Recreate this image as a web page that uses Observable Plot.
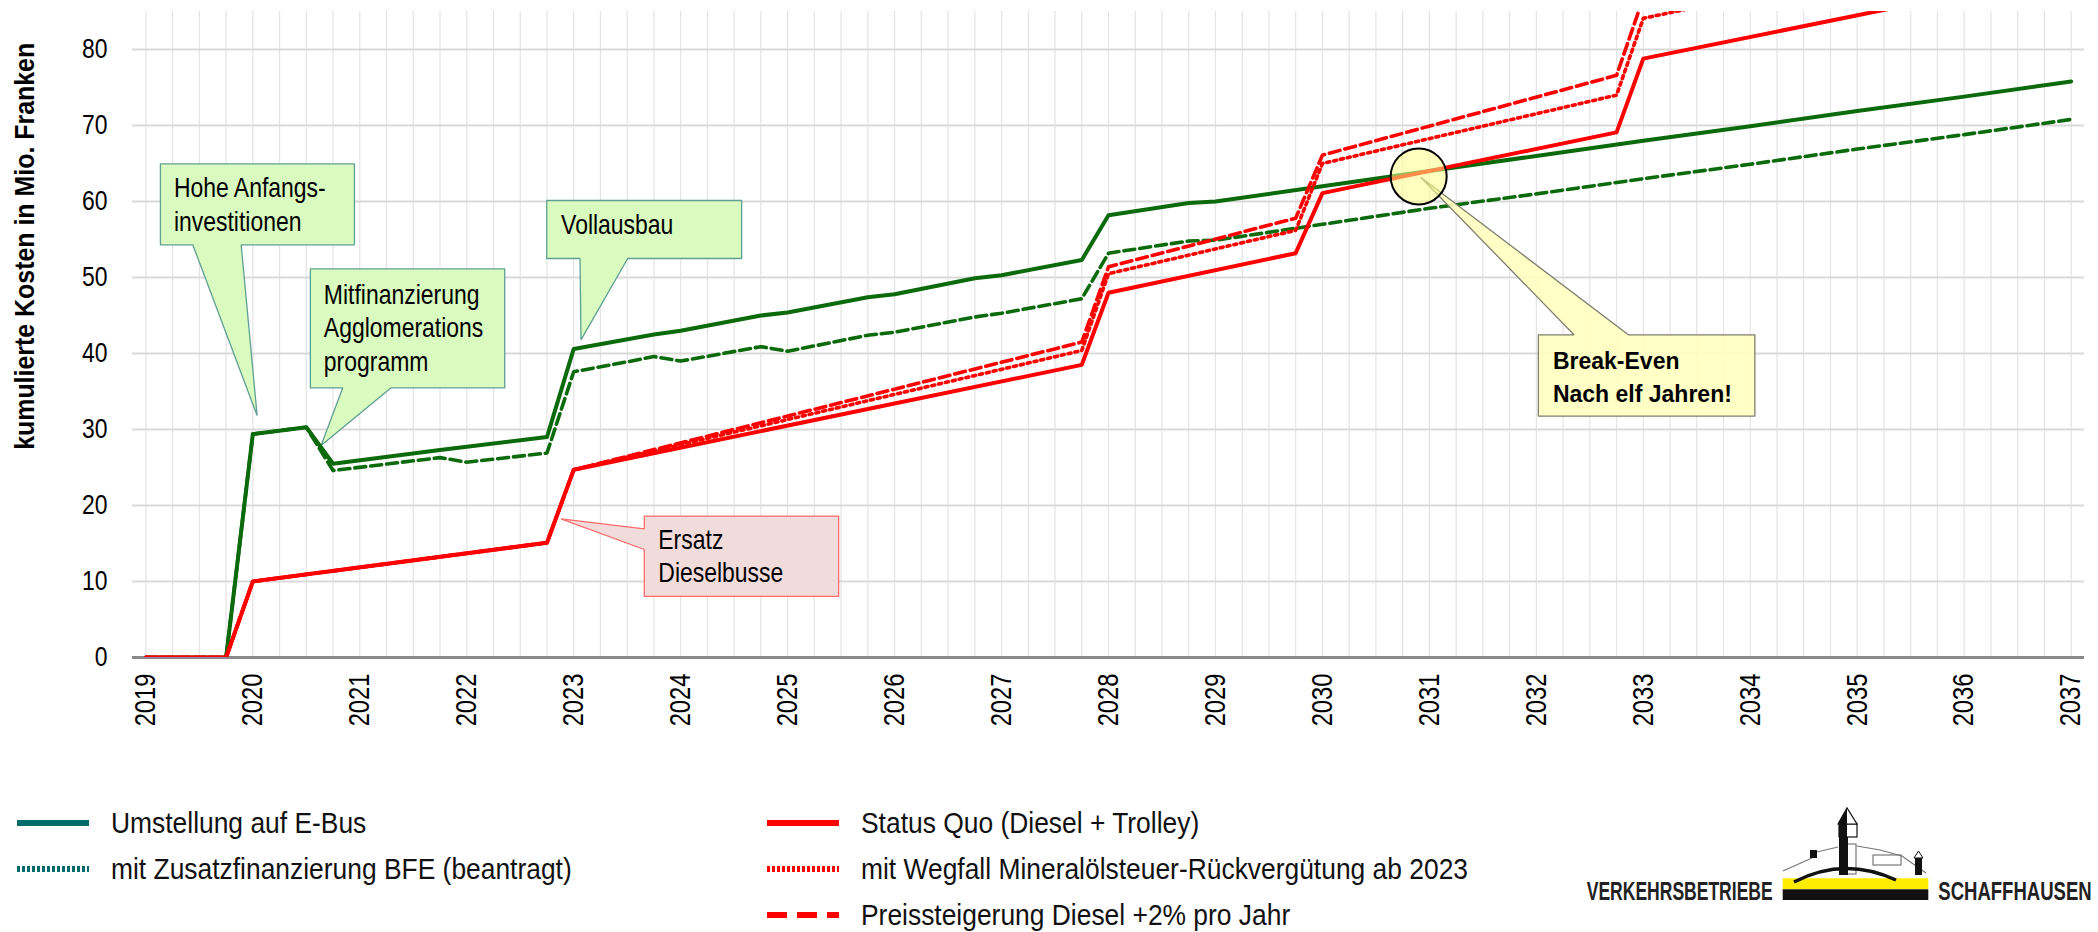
<!DOCTYPE html>
<html><head><meta charset="utf-8">
<script src="https://cdn.jsdelivr.net/npm/d3@7"></script>
<script src="https://cdn.jsdelivr.net/npm/@observablehq/plot@0.6"></script>
<style>
body{margin:0;background:#fff;}
#wrap{position:relative;width:2098px;height:932px;overflow:hidden;background:#fff;}
#chart{position:absolute;left:0;top:0;}
.leg{position:absolute;display:flex;align-items:center;height:40px;font-family:'Liberation Sans',Arial,sans-serif;font-size:30px;color:#111;white-space:nowrap;}
.leg svg{margin-right:22px;flex:none;}
.leg span{display:inline-block;transform:scaleX(0.88);transform-origin:left center;}
#logo{position:absolute;left:1580px;top:800px;}
</style></head>
<body>
<div id="wrap">
<div id="chart"></div>
<div id="legend"></div>
<svg id="logo" width="518" height="132" viewBox="0 0 518 132">
  <g fill="none" stroke="#777" stroke-width="1.2">
    <path d="M203,71 L232,58"/>
    <path d="M237,52 L258,47"/>
    <path d="M277,46 L300,50 L322,56 L346,73"/>
    <rect x="293" y="55" width="28" height="10"/>
    <rect x="262" y="44" width="14" height="30"/>
  </g>
  <rect x="230" y="50" width="7" height="8" fill="#111"/>
  <rect x="335" y="57" width="7" height="18" fill="#111"/>
  <path d="M334,58 L338.5,51 L343,58 Z" fill="#fff" stroke="#111" stroke-width="1"/>
  <rect x="259" y="36" width="9" height="39" fill="#111"/>
  <rect x="259" y="24" width="18" height="13" fill="#fff" stroke="#111" stroke-width="1.2"/>
  <rect x="259" y="24" width="8" height="13" fill="#111"/>
  <path d="M258,24 L267,8 L277,24 Z" fill="#fff" stroke="#111" stroke-width="1.2"/>
  <path d="M258,24 L267,8 L267,24 Z" fill="#111"/>
  <rect x="202.7" y="78.3" width="145.6" height="11" fill="#ffec00"/>
  <rect x="202.7" y="89.3" width="145.6" height="10.7" fill="#111"/>
  <path d="M214,82 Q264,56 316,80" fill="none" stroke="#111" stroke-width="3.5"/>
  <text x="6.7" y="100" textLength="186" lengthAdjust="spacingAndGlyphs" font-family="'Liberation Sans',Arial,sans-serif" font-weight="bold" font-size="25" fill="#222">VERKEHRSBETRIEBE</text>
  <text x="358.3" y="100" textLength="153.4" lengthAdjust="spacingAndGlyphs" font-family="'Liberation Sans',Arial,sans-serif" font-weight="bold" font-size="25" fill="#222">SCHAFFHAUSEN</text>
</svg>
</div>
<script>
// ---------- data ----------
const xTicks = [2019,2020,2021,2022,2023,2024,2025,2026,2027,2028,2029,2030,2031,2032,2033,2034,2035,2036,2037];
const yTicks = [0,10,20,30,40,50,60,70,80];

// Umstellung auf E-Bus  [Jahr, Mio. Fr.]
const eBus = [
 [2019.0,0],[2019.75,0],[2020.0,29.4],[2020.5,30.3],[2020.75,25.5],[2021.75,27.3],[2022.75,29.0],
 [2023.0,40.6],[2023.75,42.5],[2024.0,43.0],[2024.75,45.0],[2025.0,45.4],[2025.75,47.4],[2026.0,47.8],
 [2026.75,49.9],[2027.0,50.3],[2027.75,52.3],[2028.0,58.2],[2028.75,59.8],[2029.0,60.0],[2030.0,62.0],
 [2031.0,64.0],[2032.0,66.0],[2033.0,68.0],[2034.0,69.9],[2035.0,71.9],[2036.0,73.8],[2037.0,75.8]
];
// mit Zusatzfinanzierung BFE (beantragt)
const eBusBFE = [
 [2019.0,0],[2019.75,0],[2020.0,29.4],[2020.5,30.3],[2020.75,24.6],[2021.75,26.3],[2022.0,25.7],[2022.75,26.9],
 [2023.0,37.6],[2023.5,38.9],[2023.75,39.6],[2024.0,39.0],[2024.75,40.9],[2025.0,40.3],[2025.75,42.4],[2026.0,42.8],
 [2026.75,44.8],[2027.0,45.3],[2027.75,47.2],[2028.0,53.2],[2028.75,54.8],[2029.0,54.9],[2030.0,57.0],
 [2031.0,59.1],[2032.0,61.0],[2033.0,63.0],[2034.0,64.9],[2035.0,66.9],[2036.0,68.8],[2037.0,70.8]
];
// Status Quo (Diesel + Trolley)
const statusQuo = [
 [2019.0,0],[2019.75,0],[2020.0,10.0],[2022.75,15.1],[2023.0,24.7],[2027.75,38.5],[2028.0,48.0],
 [2029.75,53.2],[2030.0,61.1],[2032.75,69.1],[2033.0,78.8],[2037.0,90.2]
];
// mit Wegfall Mineralölsteuer-Rückvergütung ab 2023
const mineraloel = [
 [2019.0,0],[2019.75,0],[2020.0,10.0],[2022.75,15.1],[2023.0,24.7],[2027.75,40.4],[2028.0,50.5],
 [2029.75,56.2],[2030.0,65.0],[2032.75,74.0],[2033.0,84.1],[2037.0,96.0]
];
// Preissteigerung Diesel +2% pro Jahr
const preis = [
 [2019.0,0],[2019.75,0],[2020.0,10.0],[2022.75,15.1],[2023.0,24.7],[2027.75,41.5],[2028.0,51.4],
 [2029.75,57.8],[2030.0,66.1],[2032.75,76.6],[2033.0,86.8],[2037.0,100.0]
];
const breakEven = [2030.9, 63.3];

const legendLabels = [
  "Umstellung auf E-Bus",
  "mit Zusatzfinanzierung BFE (beantragt)",
  "Status Quo (Diesel + Trolley)",
  "mit Wegfall Mineralölsteuer-Rückvergütung ab 2023",
  "Preissteigerung Diesel +2% pro Jahr"
];
const yTitle = "kumulierte Kosten in Mio. Franken";

// ---------- annotation geometry (data units) ----------
const cHohe  = {x0:2019.136, x1:2020.950, top:64.96, bottom:54.30, a:2019.439, b:2019.891, tip:[2020.040,31.84]};
const cAgglo = {x0:2020.538, x1:2022.355, top:51.14, bottom:35.49, a:2020.841, b:2021.293, tip:[2020.638,27.89]};
const cVoll  = {x0:2022.748, x1:2024.570, top:60.13, bottom:52.50, a:2023.059, b:2023.505, tip:[2023.068,41.80]};
const cErs   = {x0:2023.660, x1:2025.477, top:18.59, bottom:8.03, hi:16.93, lo:14.21, tip:[2022.881,18.25]};
const cBE    = {x0:2032.019, x1:2034.043, top:42.46, bottom:31.75, a:2032.352, b:2032.860, tip:[2030.919,63.20]};

const notes = [
  {x:2019.262, y:63.71, t:"Hohe Anfangs-\ninvestitionen"},
  {x:2020.664, y:49.68, t:"Mitfinanzierung\nAgglomerations\nprogramm"},
  {x:2022.882, y:58.89, t:"Vollausbau"},
  {x:2023.791, y:17.44, t:"Ersatz\nDieselbusse"}
];
const beNote = [{x:2032.155, y:41.10, t:"Break-Even\nNach elf Jahren!"}];
const titlePos = [{x:2018.875, y:54.1, t:yTitle}];

const bottomTail = c => [[c.x0,c.top],[c.x1,c.top],[c.x1,c.bottom],[c.b,c.bottom],c.tip,[c.a,c.bottom],[c.x0,c.bottom],[c.x0,c.top]];
const leftTail = c => [[c.x0,c.top],[c.x1,c.top],[c.x1,c.bottom],[c.x0,c.bottom],[c.x0,c.lo],c.tip,[c.x0,c.hi],[c.x0,c.top]];
const topTail = c => [[c.x0,c.top],[c.a,c.top],c.tip,[c.b,c.top],[c.x1,c.top],[c.x1,c.bottom],[c.x0,c.bottom],[c.x0,c.top]];

// condensed look: regular face, horizontally squeezed after rendering
const COND = "'Liberation Sans', Arial, xcond, sans-serif";
const TITLEF = "'Liberation Sans', Arial, xtitle, sans-serif";
const GREEN = "#0b6a0b", RED = "#ff0000", TEAL = "#006b6b";
const quarterGrid = d3.range(2019, 2037.001, 0.25);

const greenBox = {fill:"#d9fbbf", stroke:"#5f9f93", strokeWidth:1.3, strokeLinejoin:"miter"};

const chart = Plot.plot({
  width: 2098, height: 745,
  marginLeft: 132, marginRight: 14, marginTop: 11, marginBottom: 88,
  x: {domain: [2018.875, 2037.125]},
  y: {domain: [0, 85]},
  style: {fontFamily: "'Liberation Sans', Arial, sans-serif", background: "#fff", color: "#000", overflow: "visible"},
  marks: [
    Plot.ruleX(quarterGrid, {stroke: "#e4e4e4", strokeWidth: 1.2}),
    Plot.ruleY(yTicks.filter(d => d > 0), {stroke: "#d9d9d9", strokeWidth: 2}),
    Plot.ruleY([0], {stroke: "#8a8a8a", strokeWidth: 3}),
    Plot.axisX({ticks: xTicks, tickFormat: "d", tickRotate: -90, tickSize: 0, tickPadding: 16, fontSize: 29, fontFamily: COND, label: null, fill: "#000"}),
    Plot.axisY({ticks: yTicks, tickSize: 0, tickPadding: 25, fontSize: 28, fontFamily: COND, label: null, fill: "#000"}),
    Plot.text(titlePos, {x: "x", y: "y", text: "t", dx: -107, rotate: -90, textAnchor: "middle", lineAnchor: "middle", fontSize: 28, fontWeight: "bold", fontFamily: TITLEF, fill: "#000"}),
    // callouts behind the lines
    Plot.line(bottomTail(cHohe), greenBox),
    Plot.line(bottomTail(cAgglo), greenBox),
    Plot.line(bottomTail(cVoll), greenBox),
    Plot.line(leftTail(cErs), {fill:"#f2dcdb", stroke:"#ff6a6a", strokeWidth:1.3, strokeLinejoin:"miter"}),
    Plot.text(notes, {x:"x", y:"y", text:"t", textAnchor:"start", lineAnchor:"top", lineHeight:1.2, fontSize:28, fontFamily:COND, fill:"#000"}),
    // series
    Plot.line(eBusBFE, {stroke: GREEN, strokeWidth: 3.6, strokeDasharray: "11,5", clip: true}),
    Plot.line(eBus, {stroke: GREEN, strokeWidth: 4, clip: true}),
    Plot.line(mineraloel, {stroke: RED, strokeWidth: 3.6, strokeDasharray: "3,4", clip: true}),
    Plot.line(preis, {stroke: RED, strokeWidth: 3.6, strokeDasharray: "11,5", clip: true}),
    Plot.line(statusQuo, {stroke: RED, strokeWidth: 4, clip: true}),
    // break-even callout
    Plot.line(topTail(cBE), {fill:"#ffffc0", fillOpacity:0.9, stroke:"#7f7f70", strokeWidth:1.3, strokeLinejoin:"miter"}),
    Plot.dot([breakEven], {r: 28, fill: "#ffff88", fillOpacity: 0.55, stroke: "#000", strokeWidth: 2}),
    Plot.text(beNote, {x:"x", y:"y", text:"t", textAnchor:"start", lineAnchor:"top", lineHeight:1.45, fontSize:23, fontWeight:"bold", fill:"#000"})
  ]
});
chart.querySelectorAll('g[font-family*="xcond"] text').forEach(t => {
  t.setAttribute("transform", (t.getAttribute("transform") || "") + " scale(0.82,1)");
});
chart.querySelectorAll('g[font-family*="xtitle"] text').forEach(t => {
  t.setAttribute("transform", (t.getAttribute("transform") || "") + " scale(0.89,1)");
});
document.getElementById("chart").appendChild(chart);

// ---------- legend ----------
const legendStyles = [
  {color: TEAL, dash: null},
  {color: TEAL, dash: "3,2"},
  {color: RED, dash: null},
  {color: RED, dash: "3,2"},
  {color: RED, dash: "20,10"}
];
const legendPos = [[17,803],[17,849],[767,803],[767,849],[767,895]];
const legend = document.getElementById("legend");
legendLabels.forEach((lab, i) => {
  const d = document.createElement("div");
  d.className = "leg";
  d.style.left = legendPos[i][0] + "px";
  d.style.top = legendPos[i][1] + "px";
  const st = legendStyles[i];
  d.innerHTML = `<svg width="72" height="10"><line x1="0" x2="72" y1="5" y2="5" stroke="${st.color}" stroke-width="6" ${st.dash ? `stroke-dasharray="${st.dash}"` : ""}/></svg><span>${lab}</span>`;
  legend.appendChild(d);
});
</script>
</body></html>
